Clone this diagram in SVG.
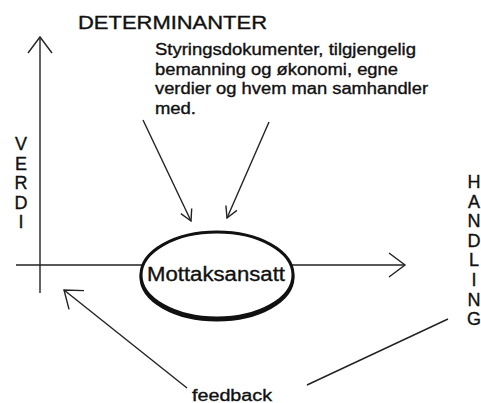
<svg xmlns="http://www.w3.org/2000/svg" width="481" height="403" viewBox="0 0 481 403">
<style>
text { font-family: "Liberation Sans", Arial, sans-serif; fill: #111; stroke: #111; stroke-width: 0.35; }
.ln { stroke: #222; stroke-width: 1.4; fill: none; }
.mk { stroke: #222; stroke-width: 1.4; fill: none; }
.vert { font-size: 18px; text-anchor: middle; }
.para { font-size: 16px; }
</style>
<defs>
<marker id="big" viewBox="0 0 16 24" refX="16" refY="12" markerWidth="16" markerHeight="24" markerUnits="userSpaceOnUse" orient="auto" overflow="visible">
<path class="mk" d="M0,0 L16,12 L0,24"/>
</marker>
<marker id="small" viewBox="0 0 11 12" refX="11" refY="6" markerWidth="11" markerHeight="12" markerUnits="userSpaceOnUse" orient="auto" overflow="visible">
<path class="mk" d="M0,0 L11,6 L0,12"/>
</marker>
</defs>
<rect width="481" height="403" fill="#fff"/>
<g id="connectors">
<line class="ln" x1="40" y1="293" x2="40" y2="37" marker-end="url(#big)"/>
<line class="ln" x1="16" y1="265" x2="405" y2="265" marker-end="url(#big)"/>
<line class="ln" x1="143" y1="120" x2="191" y2="221" marker-end="url(#small)"/>
<line class="ln" x1="269" y1="122" x2="227" y2="218" marker-end="url(#small)"/>
<line class="ln" x1="187" y1="388" x2="64" y2="290" marker-end="url(#big)"/>
<line class="ln" x1="307" y1="385" x2="448" y2="319"/>
</g>
<g id="mottaksansatt">
<ellipse cx="217" cy="277" rx="76" ry="43" fill="none" stroke="#111" stroke-width="3"/>
<ellipse cx="217" cy="275" rx="76" ry="43" fill="#fff" stroke="#111" stroke-width="3"/>
<text x="147" y="281" font-size="20" textLength="138" lengthAdjust="spacingAndGlyphs">Mottaksansatt</text>
</g>
<g id="determinanter">
<text x="78" y="29" font-size="19" textLength="189" lengthAdjust="spacingAndGlyphs">DETERMINANTER</text>
</g>
<g id="determinanter-tekst">
<text class="para" x="155" y="55" textLength="261" lengthAdjust="spacingAndGlyphs">Styringsdokumenter, tilgjengelig</text>
<text class="para" x="155" y="74.5" textLength="243" lengthAdjust="spacingAndGlyphs">bemanning og økonomi, egne</text>
<text class="para" x="155" y="94" textLength="273" lengthAdjust="spacingAndGlyphs">verdier og hvem man samhandler</text>
<text class="para" x="155" y="113.5" textLength="41" lengthAdjust="spacingAndGlyphs">med.</text>
</g>
<g id="verdi">
<text class="vert" x="21" y="150">V</text>
<text class="vert" x="21" y="169.5">E</text>
<text class="vert" x="21" y="189">R</text>
<text class="vert" x="21" y="208.5">D</text>
<text class="vert" x="21" y="228">I</text>
</g>
<g id="handling">
<text class="vert" x="474" y="188">H</text>
<text class="vert" x="474" y="207.6">A</text>
<text class="vert" x="474" y="227.2">N</text>
<text class="vert" x="474" y="246.8">D</text>
<text class="vert" x="474" y="266.4">L</text>
<text class="vert" x="474" y="286">I</text>
<text class="vert" x="474" y="305.6">N</text>
<text class="vert" x="474" y="325.2">G</text>
</g>
<g id="feedback">
<text x="192" y="401" font-size="16" textLength="80" lengthAdjust="spacingAndGlyphs">feedback</text>
</g>
</svg>
